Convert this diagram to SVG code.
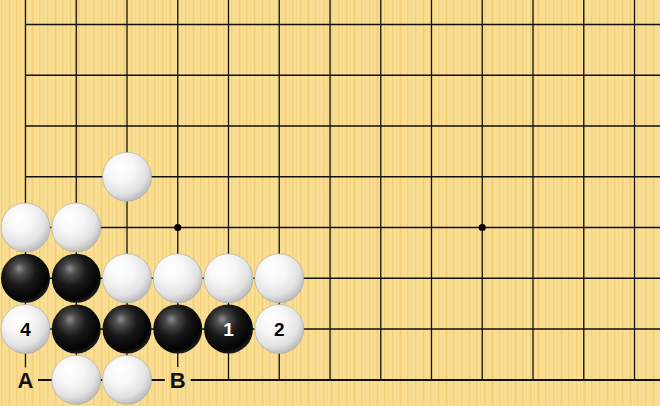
<svg xmlns="http://www.w3.org/2000/svg" width="660" height="406" viewBox="0 0 660 406">
<defs>
<pattern id="wood" x="0" y="0" width="23" height="10" patternUnits="userSpaceOnUse">
<rect width="23" height="10" fill="#F9DE93"/>
<rect x="1" width="1.5" height="10" fill="#F3D07B"/>
<rect x="5" width="1" height="10" fill="#F6D787"/>
<rect x="8.5" width="2" height="10" fill="#F2CE77"/>
<rect x="13" width="1" height="10" fill="#F7D98A"/>
<rect x="16" width="1.5" height="10" fill="#F3D07C"/>
<rect x="20" width="1" height="10" fill="#F6D786"/>
</pattern>
<radialGradient id="gb" cx="0.4" cy="0.36" r="0.65" fx="0.37" fy="0.3">
<stop offset="0" stop-color="#8e8e8e"/>
<stop offset="0.2" stop-color="#4a4a4a"/>
<stop offset="0.5" stop-color="#181818"/>
<stop offset="0.88" stop-color="#040404"/>
<stop offset="1" stop-color="#1c1c1c"/>
</radialGradient>
<radialGradient id="gw" cx="0.4" cy="0.35" r="0.68" fx="0.36" fy="0.3">
<stop offset="0" stop-color="#ffffff"/>
<stop offset="0.4" stop-color="#f7f7f7"/>
<stop offset="0.75" stop-color="#e2e2e2"/>
<stop offset="1" stop-color="#b8b8b8"/>
</radialGradient>
</defs>
<style>
.ln{stroke:#111;stroke-width:1.3;fill:none}
.edge{stroke:#111;stroke-width:2;fill:none}
.b{fill:url(#gb)}
.w{fill:url(#gw);stroke:#a8a8a8;stroke-width:0.6}
.hoshi{fill:#000}
.lbl{font-family:"Liberation Sans",Arial,sans-serif;font-weight:bold;text-anchor:middle}
.num{font-size:19px}
.let{font-size:22px;fill:#111}
.patch{fill:url(#wood)}
</style>
<rect width="660" height="406" fill="url(#wood)"/>
<g id="grid">
<path class="ln" d="M25.5 0V380M76.25 0V380M127 0V380M177.75 0V380M228.5 0V380M279.25 0V380M330 0V380M380.75 0V380M431.5 0V380M482.25 0V380M533 0V380M583.75 0V380M634.5 0V380"/>
<path class="ln" d="M25.5 24.5H660M25.5 75.25H660M25.5 126H660M25.5 176.75H660M25.5 227.5H660M25.5 278.25H660M25.5 329H660"/>
<path class="edge" d="M25.5 380H660"/>
<circle class="hoshi" cx="177.75" cy="227.5" r="3.6"/>
<circle class="hoshi" cx="482.25" cy="227.5" r="3.6"/>
</g>
<g id="label-A">
<circle class="patch" cx="25.5" cy="380" r="12.5"/>
<text class="lbl let" x="25.5" y="388">A</text>
</g>
<g id="label-B">
<circle class="patch" cx="177.75" cy="380" r="13"/>
<text class="lbl let" x="177.75" y="388">B</text>
</g>
<g id="w-c2r3"><circle class="w" cx="127" cy="176.75" r="24.5"/></g>
<g id="w-c0r4"><circle class="w" cx="25.5" cy="227.5" r="24.5"/></g>
<g id="w-c1r4"><circle class="w" cx="76.25" cy="227.5" r="24.5"/></g>
<g id="b-c0r5"><circle class="b" cx="25.5" cy="278.25" r="24.5"/></g>
<g id="b-c1r5"><circle class="b" cx="76.25" cy="278.25" r="24.5"/></g>
<g id="w-c2r5"><circle class="w" cx="127" cy="278.25" r="24.5"/></g>
<g id="w-c3r5"><circle class="w" cx="177.75" cy="278.25" r="24.5"/></g>
<g id="w-c4r5"><circle class="w" cx="228.5" cy="278.25" r="24.5"/></g>
<g id="w-c5r5"><circle class="w" cx="279.25" cy="278.25" r="24.5"/></g>
<g id="w4"><circle class="w" cx="25.5" cy="329" r="24.5"/><text class="lbl num" x="25.5" y="335.8" fill="#000">4</text></g>
<g id="b-c1r6"><circle class="b" cx="76.25" cy="329" r="24.5"/></g>
<g id="b-c2r6"><circle class="b" cx="127" cy="329" r="24.5"/></g>
<g id="b-c3r6"><circle class="b" cx="177.75" cy="329" r="24.5"/></g>
<g id="b1"><circle class="b" cx="228.5" cy="329" r="24.5"/><text class="lbl num" x="228.5" y="335.8" fill="#fff">1</text></g>
<g id="w2"><circle class="w" cx="279.25" cy="329" r="24.5"/><text class="lbl num" x="279.25" y="335.8" fill="#000">2</text></g>
<g id="w-c1r7"><circle class="w" cx="76.25" cy="379.75" r="24.5"/></g>
<g id="w-c2r7"><circle class="w" cx="127" cy="379.75" r="24.5"/></g>
</svg>
